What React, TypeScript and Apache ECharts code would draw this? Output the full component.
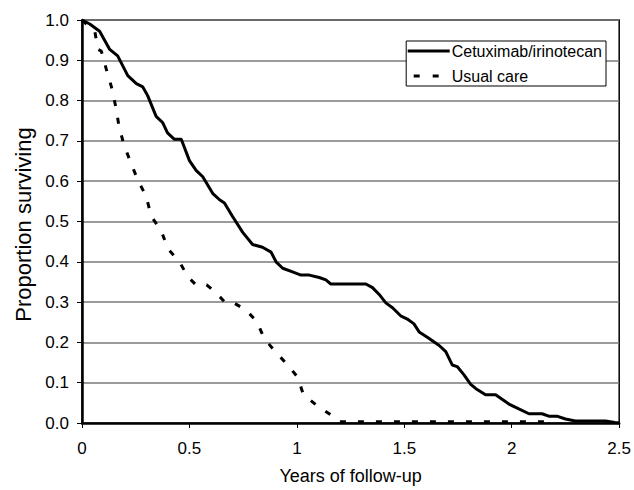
import React, { useEffect, useRef } from "react";
import * as echarts from "echarts";

const cetuxX = [0, 0.036, 0.082, 0.129, 0.166, 0.213, 0.253, 0.283, 0.305, 0.345, 0.376, 0.398, 0.43, 0.462, 0.5, 0.531, 0.562, 0.608, 0.64, 0.663, 0.7, 0.748, 0.794, 0.84, 0.88, 0.903, 0.934, 0.98, 1.019, 1.058, 1.104, 1.135, 1.158, 1.321, 1.352, 1.383, 1.414, 1.445, 1.483, 1.514, 1.545, 1.569, 1.607, 1.661, 1.693, 1.723, 1.746, 1.777, 1.809, 1.839, 1.878, 1.925, 1.955, 1.987, 2.033, 2.08, 2.141, 2.172, 2.21, 2.25, 2.296, 2.436, 2.48, 2.5];
const cetuxY = [1.0, 0.99, 0.972, 0.927, 0.911, 0.862, 0.842, 0.834, 0.813, 0.761, 0.745, 0.72, 0.704, 0.704, 0.651, 0.627, 0.611, 0.57, 0.554, 0.546, 0.513, 0.473, 0.443, 0.436, 0.424, 0.4, 0.384, 0.375, 0.367, 0.367, 0.361, 0.355, 0.345, 0.345, 0.336, 0.319, 0.298, 0.286, 0.266, 0.258, 0.246, 0.226, 0.213, 0.193, 0.177, 0.144, 0.14, 0.12, 0.096, 0.083, 0.07, 0.07, 0.059, 0.047, 0.035, 0.023, 0.023, 0.017, 0.017, 0.01, 0.005, 0.005, 0.001, 0];

const usualX = [0, 0.06, 0.074, 0.09, 0.113, 0.137, 0.157, 0.172, 0.194, 0.229, 0.26, 0.299, 0.322, 0.369, 0.4, 0.454, 0.492, 0.53, 0.58, 0.624, 0.67, 0.71, 0.764, 0.813, 0.849, 0.9, 0.957, 1.003, 1.03, 1.089, 1.158, 1.2, 2.2];
const usualY = [1.0, 0.971, 0.927, 0.923, 0.878, 0.834, 0.785, 0.737, 0.692, 0.643, 0.603, 0.562, 0.513, 0.477, 0.432, 0.4, 0.363, 0.343, 0.343, 0.323, 0.297, 0.297, 0.28, 0.252, 0.209, 0.177, 0.144, 0.114, 0.071, 0.045, 0.02, 0.003, 0.003];

const seriesNames = ["Cetuximab/irinotecan", "Usual care"];
const xTitle = "Years of follow-up";
const yTitle = "Proportion surviving";

const FONT = "'Liberation Sans', Arial, Helvetica, sans-serif";

export default function App() {
  const ref = useRef<HTMLDivElement>(null);
  useEffect(() => {
    if (!ref.current) return;
    const chart = echarts.init(ref.current, null, { renderer: "svg" });
    chart.setOption({
      animation: false,
      backgroundColor: "#fff",
      textStyle: { fontFamily: FONT },
      grid: {
        left: 82,
        right: 13,
        top: 20,
        bottom: 59,
        show: true,
        borderColor: "#000",
        borderWidth: 1.5,
        containLabel: false,
      },
      legend: {
        orient: "vertical",
        right: 28,
        top: 41,
        backgroundColor: "#fff",
        borderColor: "#000",
        borderWidth: 1,
        borderRadius: 0,
        padding: [2, 4, 2, 0],
        itemWidth: 42,
        itemHeight: 10,
        itemGap: 9,
        itemStyle: { opacity: 0 },
        textStyle: { fontFamily: FONT, fontSize: 16, color: "#000", padding: [0, 0, 0, -3] },
        data: [
          { name: seriesNames[0], lineStyle: { width: 3, color: "#000" } },
          { name: seriesNames[1], lineStyle: { width: 3, color: "#000", type: [6, 13], dashOffset: 13 } },
        ],
      },
      xAxis: {
        type: "value",
        min: 0,
        max: 2.5,
        interval: 0.5,
        name: xTitle,
        nameLocation: "middle",
        nameGap: 44,
        nameTextStyle: { fontFamily: FONT, fontSize: 18, color: "#000" },
        axisLine: { lineStyle: { color: "#000", width: 2.5 } },
        axisTick: { show: true, length: 5, lineStyle: { color: "#000", width: 1 } },
        axisLabel: { fontFamily: FONT, fontSize: 17, color: "#000", margin: 17 },
        splitLine: { show: false },
      },
      yAxis: {
        type: "value",
        min: 0,
        max: 1,
        interval: 0.1,
        name: yTitle,
        nameLocation: "middle",
        nameGap: 47,
        nameTextStyle: { fontFamily: FONT, fontSize: 22, color: "#000", padding: [0, 6, 0, 0] },
        axisLine: { show: true, lineStyle: { color: "#000", width: 2.5 } },
        axisTick: { show: true, length: 5, lineStyle: { color: "#000", width: 1 } },
        axisLabel: {
          fontFamily: FONT,
          fontSize: 17,
          color: "#000",
          margin: 13,
          formatter: (v: number) => v.toFixed(1),
        },
        splitLine: { show: true, lineStyle: { color: "#7a7a7a", width: 1.5 } },
      },
      series: [
        {
          name: seriesNames[0],
          type: "line",
          data: cetuxX.map((x, i) => [x, cetuxY[i]]),
          showSymbol: false,
          symbol: "none",
          lineStyle: { color: "#000", width: 3 },
          itemStyle: { color: "#000" },
          z: 3,
        },
        {
          name: seriesNames[1],
          type: "line",
          data: usualX.map((x, i) => [x, usualY[i]]),
          showSymbol: false,
          symbol: "none",
          lineStyle: { color: "#000", width: 3, type: [6, 12] },
          itemStyle: { color: "#000" },
          z: 2,
        },
      ],
    });
    return () => chart.dispose();
  }, []);
  return (
    <div
      ref={ref}
      style={{ position: "fixed", left: 0, top: 0, width: 634, height: 490, background: "#fff" }}
    />
  );
}
